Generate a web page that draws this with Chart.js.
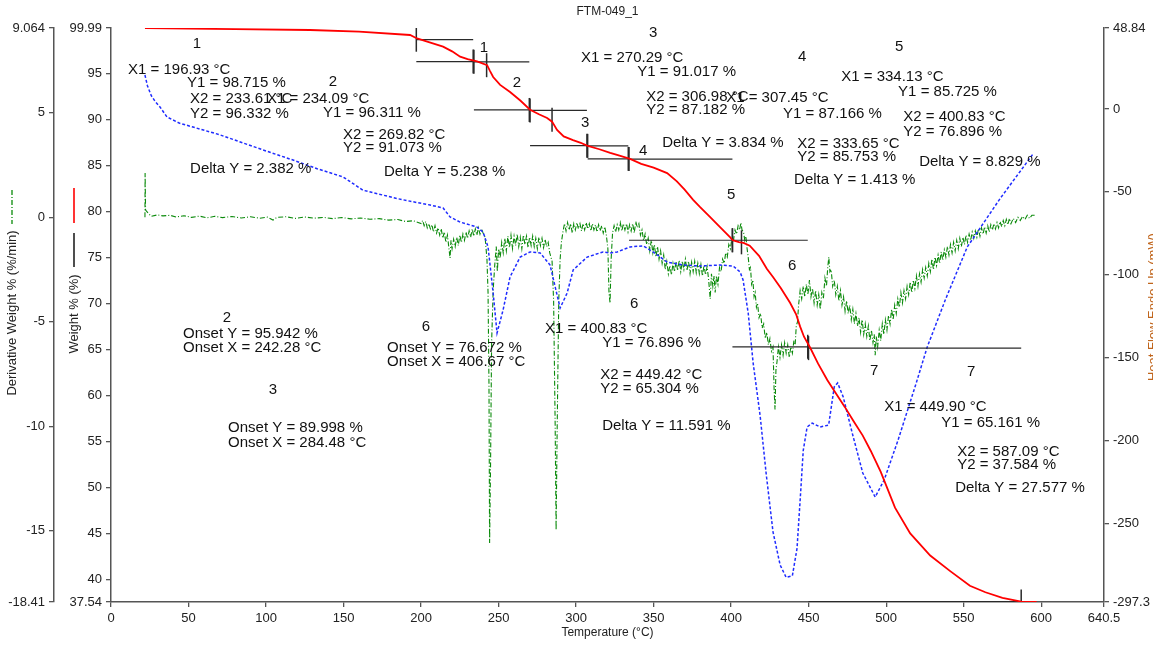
<!DOCTYPE html>
<html>
<head>
<meta charset="utf-8">
<script src="https://cdn.jsdelivr.net/npm/chart.js@4.4.1/dist/chart.umd.min.js"></script>
<style>
  html, body { margin: 0; padding: 0; background: #fff; overflow: hidden; }
  canvas { display: block; }
</style>
</head>
<body>
<canvas id="c" width="1153" height="647"></canvas>
<script>
const FONT = '"Liberation Sans", Arial, Helvetica, sans-serif';
const sampleName = 'FTM-049_1';

// Axis tick values (min and max of each axis are labelled as well)
const tempTicks = [0, 50, 100, 150, 200, 250, 300, 350, 400, 450, 500, 550, 600, 640.5];
const weightTicks = [37.54, 40, 45, 50, 55, 60, 65, 70, 75, 80, 85, 90, 95, 99.99];
const rateTicks = [-18.41, -15, -10, -5, 0, 5, 9.064];
const flowTicks = [-297.3, -250, -200, -150, -100, -50, 0, 48.84];

// TGA: [temperature °C, weight %]
const tgaCurve = [
  [21.9,99.99],[50,99.93],[80,99.86],[128.4,99.77],[160,99.6],[192.9,99.23],[197.4,98.85],[205,98.45],
  [214.2,97.96],[220,97.45],[225.2,96.87],[230,96.6],[236.1,96.35],[242.6,95.95],[244.5,95.3],[246.5,94.66],
  [251,93.8],[257.4,93.03],[264,92.1],[270.3,91.1],[276,90.6],[281.3,90.2],[284.5,89.8],[287.7,88.9],
  [292,88.2],[298,87.8],[303,87.5],[307,87.2],[315,86.8],[322,86.4],[328,86.1],[334.8,85.75],[342,85.2],
  [350,84.8],[358.7,84.2],[365,83.3],[370,82.4],[375.5,81.3],[380,80.5],[386,79.5],[393,78.3],[399.4,77.2],
  [401,76.9],[405,76.7],[408,76.6],[412,76.3],[418,75.2],[423,73.8],[427,72.9],[432,71.7],[438,70.1],
  [442,68.8],[444.5,67.5],[447,66.4],[451,65.2],[456,63.5],[462,61.7],[467,60.4],[473.4,58.74],[479,57.2],
  [484.9,55.64],[490,54.0],[496.5,51.7],[505.7,47.8],[515.5,45.0],[528.4,42.6],[541.3,40.9],[554,39.3],
  [564,38.6],[575,38.0],[587.1,37.58],[597,37.54]
];

// DTG: [temperature °C, derivative weight %/min]
const dtgCurve = [
  [21.9,0.0],[22.0,2.12],[22.3,0.35],[23.9,0.21],[26,0.05],[30,0.12],[33.5,0.07],[38,0.1],[42,0.02],[47,0.08],
  [52,0.0],[57,0.06],[62,-0.02],[67,0.05],[72,-0.01],[78,0.04],[84,-0.03],[90,0.03],[96,-0.04],[101,0.01],
  [104.5,-0.13],[107,0.0],[113,0.03],[119,-0.05],[125,0.02],[131,-0.04],[137,0.0],[143,-0.06],[149,-0.01],
  [155,-0.07],[161,-0.03],[167,-0.09],[173,-0.06],[179,-0.13],[185,-0.1],[190,-0.2],[195,-0.16],
  [200,-0.3],[201,-0.15],[202,-0.4],[203,-0.2],[204,-0.5],[205,-0.3],[206,-0.55],[207,-0.35],[208,-0.7],
  [209,-0.4],[210,-0.75],[211,-0.5],[212,-0.85],[213,-0.55],[214,-1.0],[215,-0.7],[216,-1.2],[217,-0.85],
  [218,-1.5],[218.7,-1.95],[219.3,-1.1],[220,-1.5],[221,-1.05],[222,-1.4],[223,-0.95],[224,-1.35],[225,-0.85],
  [226,-1.2],[227,-0.8],[228,-1.1],[229,-0.7],[230,-1.0],[231,-0.65],[232,-0.95],[233,-0.55],[234,-0.9],
  [235,-0.55],[236,-0.85],[237,-0.5],[238,-0.8],[239,-0.55],[240,-0.75],[241.3,-0.95],[242.5,-2.0],
  [243.2,-3.6],[243.8,-8.0],[244.2,-15.59],[244.8,-12.0],[245.5,-6.0],[246.5,-3.5],[247.5,-2.3],[248.5,-1.4],
  [249.2,-2.6],[250,-1.5],[251,-1.95],[252,-1.2],[253,-1.7],[254,-1.0],[255,-1.6],[256,-0.9],[257,-1.45],
  [258,-0.85],[259,-1.5],[260,-0.9],[261,-1.35],[262,-0.8],[263,-1.4],[264,-0.95],[265,-1.5],[266,-0.85],
  [267,-1.3],[268,-0.9],[269,-1.45],[270,-0.95],[271,-1.35],[272,-0.9],[273,-1.4],[274,-1.0],[275,-1.5],
  [276,-0.95],[277,-1.35],[278,-1.0],[279,-1.45],[280,-1.05],[281,-1.4],[282,-1.2],[283,-1.7],[284.5,-2.1],
  [285.5,-4.0],[286.5,-10.0],[287.1,-14.96],[287.8,-10.0],[288.8,-4.0],[289.7,-2.0],[290.5,-1.2],[291.5,-0.7],
  [292.5,-0.3],[293.5,-0.65],[294.5,-0.25],[295.5,-0.6],[296.5,-0.3],[297.5,-0.75],[298.5,-0.3],[299.5,-0.6],
  [300.5,-0.25],[301.5,-0.55],[302.5,-0.3],[303.5,-0.65],[304.5,-0.3],[305.5,-0.6],[306.5,-0.25],[307.5,-0.55],
  [308.5,-0.3],[309.5,-0.65],[310.5,-0.3],[311.5,-0.6],[312.5,-0.35],[313.5,-0.7],[314.5,-0.35],[315.5,-0.65],
  [316.5,-0.4],[317.5,-0.75],[318.5,-0.45],[319.5,-0.85],[320.5,-1.5],[321.2,-3.6],[321.9,-4.1],[322.6,-2.0],
  [323.5,-0.75],[324.5,-0.4],[325.5,-0.7],[326.5,-0.35],[327.5,-0.6],[328.5,-0.25],[329.5,-0.65],[330.5,-0.3],
  [331.5,-0.6],[332.5,-0.3],[333.5,-0.7],[334.5,-0.35],[335.5,-0.65],[336.5,-0.3],[337.5,-0.75],[338.5,-0.2],
  [339.5,-0.5],[340.5,-0.3],[341.5,-0.85],[342.5,-0.6],[343.5,-1.1],[344.5,-0.8],[345.5,-1.3],[346.5,-1.0],
  [347.5,-1.6],[348.5,-1.1],[349.5,-1.7],[350.5,-1.3],[351.5,-1.9],[352.5,-1.4],[353.5,-2.0],[354.5,-1.6],
  [355.5,-2.2],[356.5,-1.8],[357.5,-2.5],[358.5,-2.1],[359.5,-2.7],[360.5,-2.3],[361.5,-2.75],[362.5,-2.2],
  [363.5,-2.6],[364.5,-2.1],[365.5,-2.55],[366.5,-2.05],[367.5,-2.6],[368.5,-2.1],[369.5,-2.5],[370.5,-2.0],
  [371.5,-2.55],[372.5,-2.1],[373.5,-2.7],[374.5,-2.15],[375.5,-2.6],[376.5,-2.1],[377.5,-2.65],[378.5,-2.2],
  [379.5,-2.7],[380.5,-2.25],[381.5,-2.8],[382.5,-2.3],[383.5,-2.75],[384.5,-2.35],[385.5,-3.0],[386.5,-3.9],
  [387.3,-2.7],[388.2,-3.3],[389,-2.8],[389.7,-3.6],[390.5,-2.8],[391.5,-3.2],[392.5,-2.4],[393.5,-2.6],
  [394.5,-2.0],[395.5,-2.2],[396.5,-1.7],[397.5,-1.9],[398.5,-1.3],[399.5,-1.5],[400.5,-1.0],[401.5,-1.1],
  [402.5,-0.6],[403.5,-0.8],[404.5,-0.4],[405.5,-0.6],[406.3,-0.25],[407,-0.6],[408,-0.7],[408.8,-1.1],
  [409.5,-0.9],[410.3,-1.5],[411,-1.9],[411.8,-2.5],[412.5,-2.4],[413.2,-3.2],[414,-3.0],[414.8,-3.8],
  [415.5,-3.6],[416.3,-4.3],[417,-4.1],[418,-4.8],[419,-4.6],[420,-5.3],[421,-5.1],[422,-5.8],[423,-5.5],
  [424,-6.1],[425,-5.8],[426,-6.4],[427,-6.2],[427.7,-8.2],[428.3,-9.2],[428.9,-7.3],[429.6,-6.9],[430.5,-6.2],
  [431.5,-6.7],[432.5,-6.1],[433.5,-6.6],[434.5,-6.0],[435.5,-6.5],[436.5,-6.1],[437.5,-6.7],[438.5,-6.2],
  [439.5,-6.5],[440.5,-5.9],[441.3,-6.1],[442,-5.2],[442.8,-5.0],[443.5,-4.2],[444.5,-3.5],[445.5,-3.9],
  [446.5,-3.3],[447.5,-3.8],[448.5,-3.2],[449.5,-3.7],[450.5,-3.0],[451.5,-3.8],[452.5,-3.4],[453.5,-4.1],
  [454.5,-3.5],[455.5,-4.2],[456.5,-3.7],[457.5,-4.4],[458.5,-3.6],[459.5,-3.9],[460.5,-2.9],[461.5,-3.3],
  [462.3,-2.4],[463,-1.9],[463.7,-2.6],[464.5,-2.5],[465.5,-3.3],[466.5,-3.0],[467.5,-3.7],[468.5,-3.3],
  [469.5,-4.0],[470.5,-3.5],[471.5,-4.2],[472.5,-3.8],[473.5,-4.5],[474.5,-4.0],[475.5,-4.6],[476.5,-4.2],
  [477.5,-4.9],[478.5,-4.4],[479.5,-5.1],[480.5,-4.6],[481.5,-5.2],[482.5,-4.8],[483.5,-5.5],[484.5,-4.9],
  [485.5,-5.6],[486.5,-5.1],[487.5,-5.7],[488.5,-5.2],[489.5,-5.9],[490.5,-5.4],[491.5,-6.0],[492.3,-5.6],
  [492.9,-6.6],[493.6,-5.7],[494.5,-6.2],[495.5,-5.4],[496.5,-5.9],[497.5,-5.1],[498.5,-5.6],[499.5,-4.9],
  [500.5,-5.4],[501.5,-4.7],[502.5,-5.1],[503.5,-4.4],[504.5,-4.9],[505.5,-4.2],[506.5,-4.6],[507.5,-3.9],
  [508.5,-4.3],[509.5,-3.6],[510.5,-4.1],[511.5,-3.5],[512.5,-3.9],[513.5,-3.3],[514.5,-3.7],[515.5,-3.1],
  [516.5,-3.6],[517.5,-3.0],[518.5,-3.4],[519.5,-2.8],[520.5,-3.3],[521.5,-2.7],[522.5,-3.1],[523.5,-2.5],
  [524.5,-2.9],[525.5,-2.4],[526.5,-2.8],[527.5,-2.2],[528.5,-2.6],[529.5,-2.0],[530.5,-2.5],[531.5,-1.9],
  [532.5,-2.3],[533.5,-1.8],[534.5,-2.2],[535.5,-1.65],[536.5,-2.05],[537.5,-1.55],[538.5,-1.9],[539.5,-1.4],
  [540.5,-1.8],[541.5,-1.3],[542.5,-1.7],[543.5,-1.2],[544.5,-1.6],[545.5,-1.1],[546.5,-1.5],[547.5,-1.0],
  [548.5,-1.4],[549.5,-0.95],[550.5,-1.3],[551.5,-0.85],[552.5,-1.2],[553.5,-0.8],[554.5,-1.1],[555.5,-0.7],
  [556.5,-1.0],[557.5,-0.65],[558.5,-0.95],[559.5,-0.55],[560.5,-0.9],[561.5,-0.5],[562.5,-0.8],[563.5,-0.45],
  [564.5,-0.75],[565.5,-0.4],[566.5,-0.7],[567.5,-0.35],[568.5,-0.6],[569.5,-0.3],[570.5,-0.55],[571.5,-0.25],
  [572.5,-0.5],[573.5,-0.2],[574.5,-0.45],[575.5,-0.15],[576.5,-0.4],[577.5,-0.1],[578.5,-0.35],[579.5,-0.05],
  [580.5,-0.3],[582,-0.05],[583.5,-0.25],[585,0.0],[586.5,-0.15],[588,0.05],[589.5,-0.1],[591,0.1],
  [592.5,-0.05],[594,0.1],[596.1,0.1]
];

// DSC: [temperature °C, heat flow mW]
const hfCurve = [
  [21.9,20.5],[23.5,14],[26,8],[28.5,4.5],[31.6,1.2],[36.1,-4.8],[44,-8.5],[52.9,-10.9],[70,-15.5],
  [85.2,-20.5],[100,-25.3],[117.4,-30.8],[133,-36],[149.7,-41.0],[162.6,-49],[184.5,-54],[195,-56],
  [205.8,-57.9],[214.2,-59.7],[218.7,-65.1],[225.2,-68.2],[236.1,-71.2],[240,-74.2],[243.2,-83.2],
  [246.5,-111],[249,-135.1],[252.9,-121.2],[257.4,-101.3],[263.9,-89.3],[270.3,-86.2],[276.8,-86.8],
  [283.2,-94.1],[286.5,-107.3],[289.7,-120.0],[294.2,-111],[298.1,-97.1],[307.1,-89.3],[317.4,-86.2],
  [321.9,-86.8],[326.5,-86.2],[334.8,-83.2],[343.2,-82.5],[349.7,-86.2],[358.7,-92.3],[369,-94.1],
  [380,-94.7],[392.9,-94.1],[401.3,-94.7],[405.8,-98.3],[407.7,-103.1],[411,-123.0],[414.2,-153.2],
  [418.7,-185],[422.6,-220],[427,-255],[431.6,-275],[435.5,-282.5],[439.5,-281.5],[442.5,-265],[444.5,-236],
  [446.5,-206],[449,-191.8],[452.3,-189.4],[457.4,-191.8],[462.9,-190.6],[466.5,-167.6],[468.7,-165.2],
  [472.3,-173.7],[478.1,-195.4],[484.9,-219.5],[492.9,-234.0],[498.7,-223.7],[507.7,-199.6],[519.4,-165.2],
  [526.5,-143.5],[538.1,-115.2],[552.3,-83.2],[573.5,-54],[594.8,-27.0]
];

// Step analysis results (steps 1-7)
const stepX1 = [196.93, 234.09, 270.29, 307.45, 334.13, 400.83, 449.90];
const stepY1 = [98.715, 96.311, 91.017, 87.166, 85.725, 76.896, 65.161];
const stepX2 = [233.61, 269.82, 306.98, 333.65, 400.83, 449.42, 587.09];
const stepY2 = [96.332, 91.073, 87.182, 85.753, 76.896, 65.304, 37.584];
const stepDelta = [2.382, 5.238, 3.834, 1.413, 8.829, 11.591, 27.577];

// Onset results
const onsetIds = [2, 3, 6];
const onsetX = [242.28, 284.48, 406.67];
const onsetY = [95.942, 89.998, 76.672];

// Where each readout block sits, in (°C, weight %) units
const readoutAt = [
  { n: [55.5, 98.25],  x1: [11.0, 95.42],  y1: [49.0, 94.01],  x2: [51.0, 92.27],  y2: [51.0, 90.64],  d: [51.0, 84.66] },
  { n: [143.2, 94.12], x1: [100.6, 92.27], y1: [136.8, 90.75], x2: [149.7, 88.36], y2: [149.7, 86.95], d: [176.1, 84.34] },
  { n: [349.7, 99.45], x1: [303.2, 96.73], y1: [339.4, 95.21], x2: [345.2, 92.49], y2: [345.2, 91.08], d: [355.5, 87.49] },
  { n: [445.8, 96.84], x1: [396.8, 92.38], y1: [433.5, 90.64], x2: [442.6, 87.38], y2: [442.6, 85.97], d: [440.6, 83.47] },
  { n: [508.4, 97.92], x1: [471.0, 94.66], y1: [507.7, 93.03], x2: [511.0, 90.32], y2: [511.0, 88.69], d: [521.3, 85.42] },
  { n: [337.4, 69.99], x1: [280.0, 67.27], y1: [316.8, 65.75], x2: [315.5, 62.27], y2: [315.5, 60.75], d: [316.8, 56.73] },
  { n: [554.8, 62.6],  x1: [498.7, 58.79], y1: [535.5, 57.05], x2: [545.8, 53.90], y2: [545.8, 52.49], d: [544.5, 49.99] }
];
const stepTagAt = [[240.6, 97.82], [261.9, 94.01], [305.8, 89.66], [343.2, 86.62], [400, 81.84], [439.4, 74.12], [492.3, 62.71]];
const onsetAt = [
  { n: [74.8, 68.47],  y: [46.5, 66.73],  x: [46.5, 65.21] },
  { n: [104.5, 60.64], y: [75.5, 56.51],  x: [75.5, 54.88] },
  { n: [203.2, 67.49], y: [178.1, 65.21], x: [178.1, 63.68] }
];

const toPoints = arr => arr.map(([x, y]) => ({ x, y }));

// Horizontal step lines: one at Y1 and one at Y2, each spanning X1..X2
const stepLines = [];
stepX1.forEach((x1, i) => {
  stepLines.push([{ x: x1, y: stepY1[i] }, { x: stepX2[i], y: stepY1[i] }]);
  stepLines.push([{ x: x1, y: stepY2[i] }, { x: stepX2[i], y: stepY2[i] }]);
});
// Vertical cursor marks at each step start/end and at each onset
const markerPoints = [];
stepX1.forEach((x1, i) => {
  markerPoints.push({ x: x1, y: stepY1[i] });
  markerPoints.push({ x: stepX2[i], y: stepY2[i] });
});
onsetX.forEach((x, i) => markerPoints.push({ x, y: onsetY[i] }));

const datasets = [
  { data: toPoints(tgaCurve), yAxisID: 'yW', borderColor: '#ff0000', borderWidth: 1.8, pointRadius: 0 },
  ...stepLines.map(seg => ({ data: seg, yAxisID: 'yW', borderColor: '#2a2a2a', borderWidth: 1.2, pointRadius: 0 })),
  { data: markerPoints, yAxisID: 'yW', showLine: false, pointStyle: 'line', rotation: 90,
    pointRadius: 12, pointBorderColor: '#2a2a2a', pointBorderWidth: 1.5, pointBackgroundColor: '#2a2a2a' },
  { data: toPoints(hfCurve), yAxisID: 'yH', borderColor: '#1f2cff', borderWidth: 1.5, borderDash: [3, 2], pointRadius: 0 },
  { data: toPoints(dtgCurve), yAxisID: 'yD', borderColor: '#0a8a0a', borderWidth: 1.1, borderDash: [5, 2, 1, 2], pointRadius: 0 }
];

function axis(tickValues, extra) {
  return Object.assign({
    type: 'linear',
    grid: { drawOnChartArea: false, drawTicks: true, tickLength: 5, color: '#555', lineWidth: 1.3 },
    border: { display: true, color: '#555', width: 1.5 },
    ticks: { autoSkip: false, padding: 4, color: '#222', maxRotation: 0,
             font: { family: FONT, size: 13 }, callback: v => String(v) },
    afterBuildTicks: s => { s.ticks = tickValues.map(v => ({ value: v })); }
  }, extra);
}

const overlay = {
  id: 'overlay',
  afterDraw(chart) {
    const ctx = chart.ctx;
    const sx = chart.scales.x, sw = chart.scales.yW;
    const area = chart.chartArea;
    const put = (txt, p, align) => {
      ctx.textAlign = align;
      ctx.fillText(txt, sx.getPixelForValue(p[0]), sw.getPixelForValue(p[1]));
    };
    ctx.save();

    // Sample name and temperature axis title
    ctx.fillStyle = '#222';
    ctx.textBaseline = 'middle';
    ctx.font = `12px ${FONT}`;
    ctx.textAlign = 'center';
    const mid = (area.left + area.right) / 2;
    ctx.fillText(sampleName, mid, 12);
    ctx.fillText('Temperature (°C)', mid, 633);

    // Vertical axis titles with their line samples
    const vText = (txt, x, y, color, size, baseline) => {
      ctx.save();
      ctx.translate(x, y);
      ctx.rotate(-Math.PI / 2);
      ctx.fillStyle = color;
      ctx.font = `${size}px ${FONT}`;
      ctx.textAlign = 'center';
      ctx.textBaseline = baseline;
      ctx.fillText(txt, 0, 0);
      ctx.restore();
    };
    const vLine = (x, y0, y1, color, width, dash) => {
      ctx.save();
      ctx.strokeStyle = color;
      ctx.lineWidth = width;
      ctx.setLineDash(dash);
      ctx.beginPath();
      ctx.moveTo(x, y0);
      ctx.lineTo(x, y1);
      ctx.stroke();
      ctx.restore();
    };
    vText('Derivative Weight % (%/min)', 12, 313, '#222', 13, 'middle');
    vLine(12, 190, 224, '#0a8a0a', 1.3, [5, 2, 1, 2]);
    vText('Weight % (%)', 74, 314, '#222', 13, 'middle');
    vLine(74, 188, 223, '#ff0000', 1.6, []);
    vLine(74, 233, 267, '#222', 1.6, []);
    vText('Heat Flow Endo Up (mW)', 1157, 307, '#c0651c', 13, 'alphabetic');

    // Step and onset readouts
    ctx.fillStyle = '#111';
    ctx.textBaseline = 'middle';
    ctx.font = `15px ${FONT}`;
    stepX1.forEach((x1, i) => {
      const at = readoutAt[i];
      put(String(i + 1), at.n, 'center');
      put(`X1 = ${x1.toFixed(2)} °C`, at.x1, 'left');
      put(`Y1 = ${stepY1[i].toFixed(3)} %`, at.y1, 'left');
      put(`X2 = ${stepX2[i].toFixed(2)} °C`, at.x2, 'left');
      put(`Y2 = ${stepY2[i].toFixed(3)} %`, at.y2, 'left');
      put(`Delta Y = ${stepDelta[i].toFixed(3)} %`, at.d, 'left');
      put(String(i + 1), stepTagAt[i], 'center');
    });
    onsetIds.forEach((id, i) => {
      const at = onsetAt[i];
      put(String(id), at.n, 'center');
      put(`Onset Y = ${onsetY[i].toFixed(3)} %`, at.y, 'left');
      put(`Onset X = ${onsetX[i].toFixed(2)} °C`, at.x, 'left');
    });
    ctx.restore();
  }
};

new Chart(document.getElementById('c'), {
  type: 'line',
  data: { datasets },
  options: {
    responsive: false,
    devicePixelRatio: 1,
    animation: false,
    events: [],
    layout: { padding: { top: 28, left: 0, right: 0, bottom: 0 } },
    elements: { line: { tension: 0 } },
    plugins: { legend: { display: false }, tooltip: { enabled: false }, title: { display: false } },
    scales: {
      x: axis(tempTicks, { position: 'bottom', min: 0, max: 640.5,
        afterFit: s => { s.height = 45; } }),
      yD: axis(rateTicks, { position: 'left', min: -18.41, max: 9.064, weight: 10,
        afterFit: s => { s.width = 54; } }),
      yW: axis(weightTicks, { position: 'left', min: 37.54, max: 99.99, weight: 0,
        afterFit: s => { s.width = 57; } }),
      yH: axis(flowTicks, { position: 'right', min: -297.3, max: 48.84,
        afterFit: s => { s.width = 49; } })
    }
  },
  plugins: [overlay]
});
</script>
</body>
</html>
